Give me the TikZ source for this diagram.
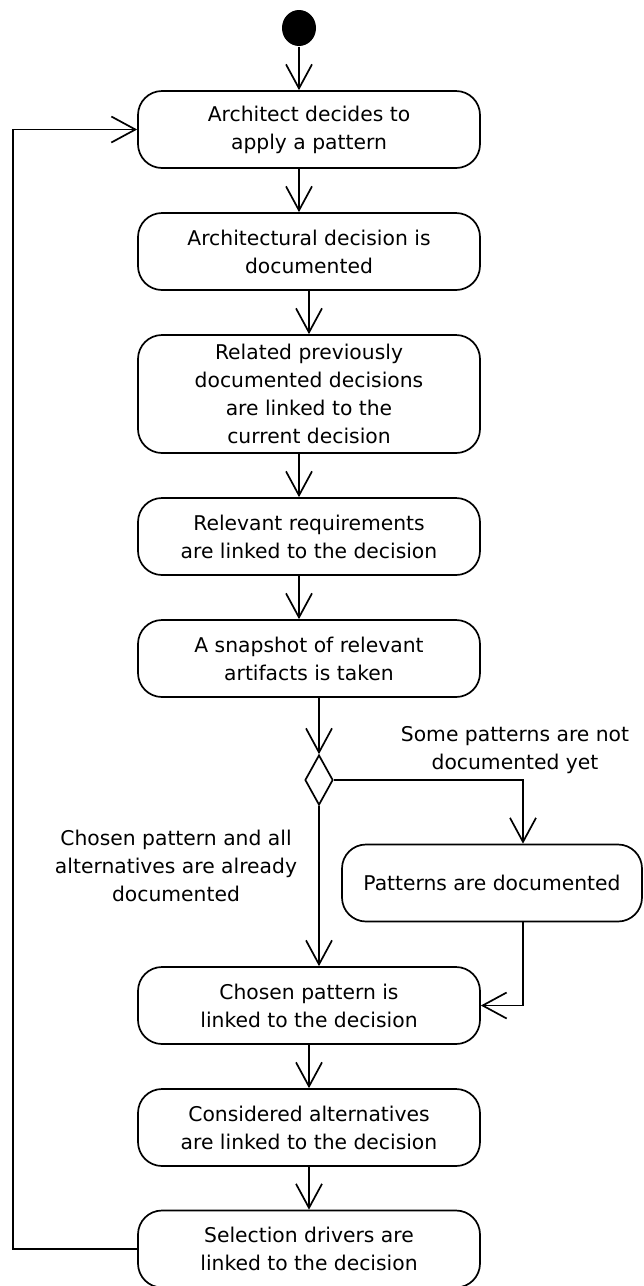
\documentclass[tikz,border=0pt]{standalone}
\usepackage{fontspec}
\setmainfont{DejaVu Sans}
\usetikzlibrary{arrows.meta, shapes.geometric}

\begin{document}
\begin{tikzpicture}[x=1pt, y=1pt, line width=1.7pt, font=\fontsize{20.3}{28}\selectfont]
\tikzstyle{activity} = [rectangle, draw, rounded corners=24pt, align=center,
    minimum width=342pt, minimum height=77pt, inner sep=0pt]
\tikzstyle{initial} = [ellipse, fill=black, minimum width=34pt, minimum height=36pt, inner sep=0pt]
\tikzstyle{decision} = [diamond, draw, minimum width=28pt, minimum height=50pt,
    inner sep=0pt, aspect=0.56]
\tikzstyle{guard} = [align=center, inner sep=0pt]
\tikzstyle{line} = [draw, -{Straight Barb[length=24pt, width=26pt]}]

 \useasboundingbox (0,0) rectangle (644,-1286);

 \node [activity] (decide) at (309,-129.5) {Architect decides to\\ apply a pattern};
 \node [initial, above of=decide, node distance=101.5pt, xshift=-10pt] (init) {};

 \node [activity, below of=decide, node distance=122pt] (documented) {Architectural decision is\\ documented};
 \node [activity, below of=documented, node distance=142.5pt, minimum height=118pt] (linked)
    {Related previously\\ documented decisions\\ are linked to the\\ current decision};
 \node [activity, below of=linked, node distance=142.5pt] (reqs) {Relevant requirements\\ are linked to the decision};
 \node [activity, below of=reqs, node distance=122pt] (snapshot) {A snapshot of relevant\\ artifacts is taken};

 \node [decision, below of=snapshot, node distance=121.5pt, xshift=10pt] (choice) {};
 \node [activity, minimum width=300pt] (patdoc) at (492,-883) {Patterns are documented};

 \node [activity, below of=snapshot, node distance=347pt] (chosen) {Chosen pattern is\\ linked to the decision};
 \node [activity, below of=chosen, node distance=122pt] (alts) {Considered alternatives\\ are linked to the decision};
 \node [activity, below of=alts, node distance=121.5pt] (drivers) {Selection drivers are\\ linked to the decision};

 \node [guard] (notyet) at (515,-750) {Some patterns are not\\ documented yet};
 \node [guard] (alldoc) at (176,-866) {Chosen pattern and all\\ alternatives are already\\ documented};

 \path [line] (init) -- (init |- decide.north);
 \path [line] ([xshift=-10pt]decide.south) -- ([xshift=-10pt]documented.north);
 \path [line] (documented) -- (linked);
 \path [line] ([xshift=-10pt]linked.south) -- ([xshift=-10pt]reqs.north);
 \path [line] ([xshift=-10pt]reqs.south) -- ([xshift=-10pt]snapshot.north);
 \path [line] (snapshot.south -| choice) -- (choice.north);

 \path [line] (choice.east) -| ([xshift=31pt]patdoc.north);
 \path [line] ([xshift=31pt]patdoc.south) |- (chosen.east);
 \path [line] (choice.south) -- (chosen.north -| choice);

 \path [line] (chosen) -- (alts);
 \path [line] (alts) -- (drivers);
 \path [line] (drivers.west) -- ++(-124pt,0) |- (decide.west);
\end{tikzpicture}
\end{document}
